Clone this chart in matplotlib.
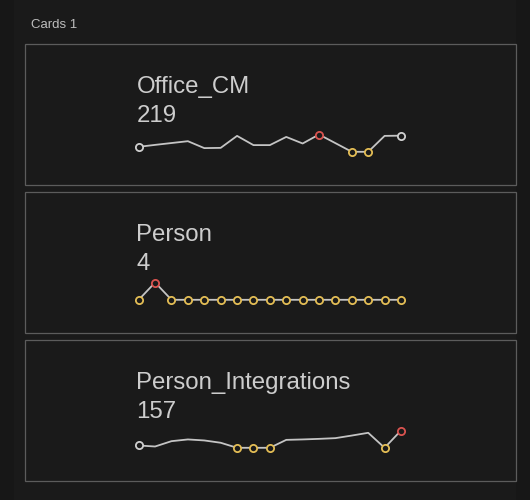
import matplotlib.pyplot as plt
from matplotlib.patches import Rectangle

# === 数据 ===
title = "Cards 1"
card_names = ["Office_CM", "Person", "Person_Integrations"]
card_values = ["219", "4", "157"]

office_cm = [209.3, 211.0, 212.6, 214.2, 208.2, 208.4, 218.8, 210.8, 210.8,
             217.9, 212.2, 220.0, 212.5, 205.0, 205.0, 218.8, 219.0]
person = [4, 5, 4, 4, 4, 4, 4, 4, 4, 4, 4, 4, 4, 4, 4, 4, 4]
person_integrations = [146.6, 145.9, 149.6, 150.8, 150.1, 148.5, 145.0, 145.0, 145.0,
                       150.5, 150.8, 151.2, 151.7, 153.5, 155.4, 145.0, 157.0]
series = [office_cm, person, person_integrations]

# === 样式 ===
W, H = 530, 500
BG = "#1a1a1a"
BORDER = "#5c5c5c"
TEXT = "#cdcdcd"
LINE = "#c4c4c4"
RED = "#d9534f"
YELLOW = "#e3bd55"
PLAIN = "#cfcfcf"

fig = plt.figure(figsize=(W / 100, H / 100), dpi=100)
fig.patch.set_facecolor("#171717")
plt.rcParams['font.family'] = ['Liberation Sans', 'DejaVu Sans']


def fx(px):
    return px / W


def fy(py):
    return 1 - py / H


# 外层浅色区域
fig.patches.append(Rectangle((fx(14), fy(500)), fx(502), 1, transform=fig.transFigure,
                             facecolor=BG, edgecolor="none", zorder=-5))

fig.text(fx(31), fy(28.5), title, color="#bdbdbd", fontsize=9.5, va="baseline", ha="left")

panel_tops = [43.5, 191.5, 339.5]
panel_h = 141
for top, name, val, vals in zip(panel_tops, card_names, card_values, series):
    fig.patches.append(Rectangle((fx(24.5), fy(top + panel_h)), fx(491.5), panel_h / H,
                                 transform=fig.transFigure, facecolor="none",
                                 edgecolor=BORDER, linewidth=0.9, zorder=-4))
    fig.text(fx(136.5), fy(top + 49.5), name, color=TEXT, fontsize=17.3, va="baseline")
    fig.text(fx(136.5), fy(top + 78), val, color=TEXT, fontsize=17.3, va="baseline")

    # sparkline
    sp_top = top + 91
    sp_bot = top + 108.3
    ax = fig.add_axes([fx(138.7), fy(sp_bot), fx(401 - 138.7), (sp_bot - sp_top) / H])
    ax.set_facecolor("none")
    ax.axis("off")
    xs = list(range(len(vals)))
    ax.plot(xs, vals, color=LINE, linewidth=1.3, clip_on=False, zorder=2)
    vmin, vmax = min(vals), max(vals)
    ax.set_xlim(0, len(vals) - 1)
    ax.set_ylim(vmin, vmax)
    for i, v in enumerate(vals):
        if v == vmax:
            c = RED
        elif v == vmin:
            c = YELLOW
        elif i == 0 or i == len(vals) - 1:
            c = PLAIN
        else:
            continue
        ax.plot(i, v, marker="o", markersize=5.2, markerfacecolor=BG,
                markeredgecolor=c, markeredgewidth=1.3, clip_on=False, zorder=3)

plt.savefig("out.png", dpi=100, facecolor=fig.get_facecolor())
